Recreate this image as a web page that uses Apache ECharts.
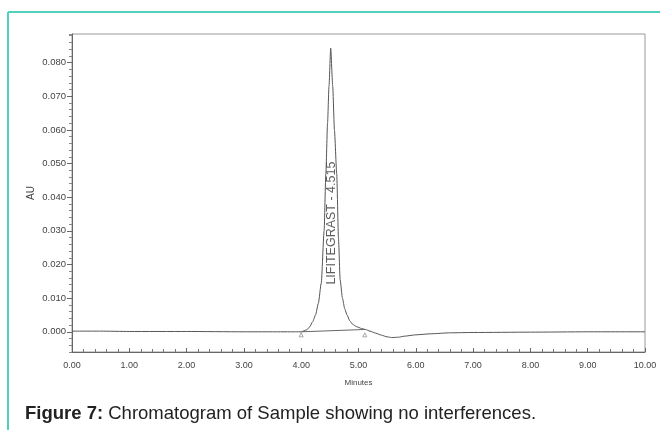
<!DOCTYPE html>
<html>
<head>
<meta charset="utf-8">
<script src="https://cdn.jsdelivr.net/npm/echarts@6/dist/echarts.min.js"></script>
<style>
	html, body { margin: 0; padding: 0; background: #fff; }
	#chart { width: 660px; height: 430px; }
</style>
</head>
<body>
<div id="chart"></div>
<script>
	// retention time (min) and absorbance (AU)
	var minutes = [0.00, 0.50, 1.00, 2.00, 3.00, 3.50, 3.90, 4.00, 4.10, 4.15, 4.20, 4.25, 4.30, 4.35, 4.40, 4.43, 4.46, 4.485,
		4.515, 4.55, 4.58, 4.62, 4.65, 4.68, 4.72, 4.76, 4.80, 4.85, 4.90, 4.97, 5.05, 5.12, 5.20, 5.30, 5.40, 5.50, 5.58,
		5.70, 5.80, 6.00, 6.25, 6.60, 7.00, 8.00, 9.00, 10.00];
	var au = [0.0002, 0.0002, 0.0001, 0.0001, 0.0000, 0.0000, 0.0000, 0.0000, 0.0006, 0.0015, 0.0030, 0.0050, 0.0085, 0.0145, 0.0300, 0.0470, 0.0620, 0.0730,
		0.0843, 0.0730, 0.0600, 0.0470, 0.0280, 0.0154, 0.0100, 0.0068, 0.0050, 0.0032, 0.0022, 0.0015, 0.0010, 0.0007, 0.0002, -0.0004, -0.0010, -0.0015, -0.0017,
		-0.0016, -0.0013, -0.0009, -0.0006, -0.0003, -0.0002, -0.0001, 0.0000, 0.0000];
	// integration baseline drawn under the peak
	var baseMinutes = [4.00, 5.12];
	var baseAu = [0.0000, 0.0007];
	var peakName = 'LIFITEGRAST - 4.515';
	var peakLabelPos = [4.53, 0.0323];
	var markerPos = [[4.00, -0.0009], [5.11, -0.0009]];
	var yMajor = [0, 0.01, 0.02, 0.03, 0.04, 0.05, 0.06, 0.07, 0.08];
	var caption = ['Figure 7:', ' Chromatogram of Sample showing no interferences.'];

	var trace = minutes.map(function (m, i) { return [m, au[i]]; });
	var base = baseMinutes.map(function (m, i) { return [m, baseAu[i]]; });

	var chart = echarts.init(document.getElementById('chart'));
	var option = {
		animation: false,
		grid: {
			left: 72,
			right: 15,
			top: 34,
			bottom: 78,
			show: true,
			borderColor: '#999',
			borderWidth: 1
		},
		xAxis: {
			type: 'value',
			min: 0,
			max: 10,
			interval: 1,
			name: 'Minutes',
			nameLocation: 'middle',
			nameGap: 27,
			nameTextStyle: { fontFamily: 'Liberation Sans', fontSize: 8, color: '#444' },
			axisLine: { onZero: false, lineStyle: { color: '#666', width: 1 } },
			axisTick: { inside: true, length: 4, lineStyle: { color: '#666' } },
			minorTick: { show: true, splitNumber: 5, length: 3, lineStyle: { color: '#777' } },
			axisLabel: {
				margin: 9,
				fontFamily: 'Liberation Sans',
				fontSize: 9,
				color: '#444',
				formatter: function (v) { return v.toFixed(2); }
			},
			splitLine: { show: false }
		},
		yAxis: [{
			type: 'value',
			min: -0.006,
			max: 0.0885,
			interval: 0.002,
			axisLine: { show: true, onZero: false, lineStyle: { color: '#666', width: 1 } },
			axisTick: { length: 3, lineStyle: { color: '#888' } },
			axisLabel: { show: false },
			splitLine: { show: false }
		}, {
			type: 'value',
			min: -0.006,
			max: 0.0885,
			position: 'left',
			name: 'AU',
			nameLocation: 'middle',
			nameGap: 36,
			nameMoveOverlap: false,
			nameTextStyle: { fontFamily: 'Liberation Sans', fontSize: 10, color: '#444' },
			axisLine: { show: false, onZero: false },
			axisTick: { show: true, length: 5, customValues: yMajor, lineStyle: { color: '#666' } },
			axisLabel: {
				margin: 6,
				customValues: yMajor,
				fontFamily: 'Liberation Sans',
				fontSize: 9.5,
				color: '#444',
				formatter: function (v) { return v.toFixed(3); }
			},
			splitLine: { show: false }
		}],
		series: [
			{
				type: 'line',
				data: trace,
				symbol: 'none',
				smooth: 0.2,
				smoothMonotone: 'x',
				lineStyle: { color: '#555', width: 1 }
			},
			{
				type: 'line',
				data: base,
				symbol: 'none',
				lineStyle: { color: '#666', width: 1 }
			},
			{
				type: 'scatter',
				data: markerPos,
				symbol: 'triangle',
				symbolSize: 4,
				itemStyle: { color: '#fff', borderColor: '#777', borderWidth: 0.8 }
			},
			{
				type: 'scatter',
				data: [peakLabelPos],
				symbolSize: 0,
				label: {
					show: true,
					position: 'inside',
					rotate: 90,
					formatter: peakName,
					fontFamily: 'Liberation Sans',
					fontSize: 12.5,
					color: '#333'
				}
			}
		],
		graphic: [
			{ type: 'line', shape: { x1: 8, y1: 12, x2: 660, y2: 12 }, style: { stroke: '#52d0be', lineWidth: 2 } },
			{ type: 'line', shape: { x1: 8, y1: 12, x2: 8, y2: 430 }, style: { stroke: '#52d0be', lineWidth: 2 } },
			{
				type: 'text', left: 25, top: 404,
				style: {
					rich: {
						b: { fontFamily: 'Liberation Sans', fontSize: 18.5, fontWeight: 'bold', fill: '#222' },
						n: { fontFamily: 'Liberation Sans', fontSize: 18.5, fill: '#222' }
					},
					text: '{b|' + caption[0] + '}{n|' + caption[1] + '}'
				}
			}
		]
	};
	chart.setOption(option);
</script>
</body>
</html>
